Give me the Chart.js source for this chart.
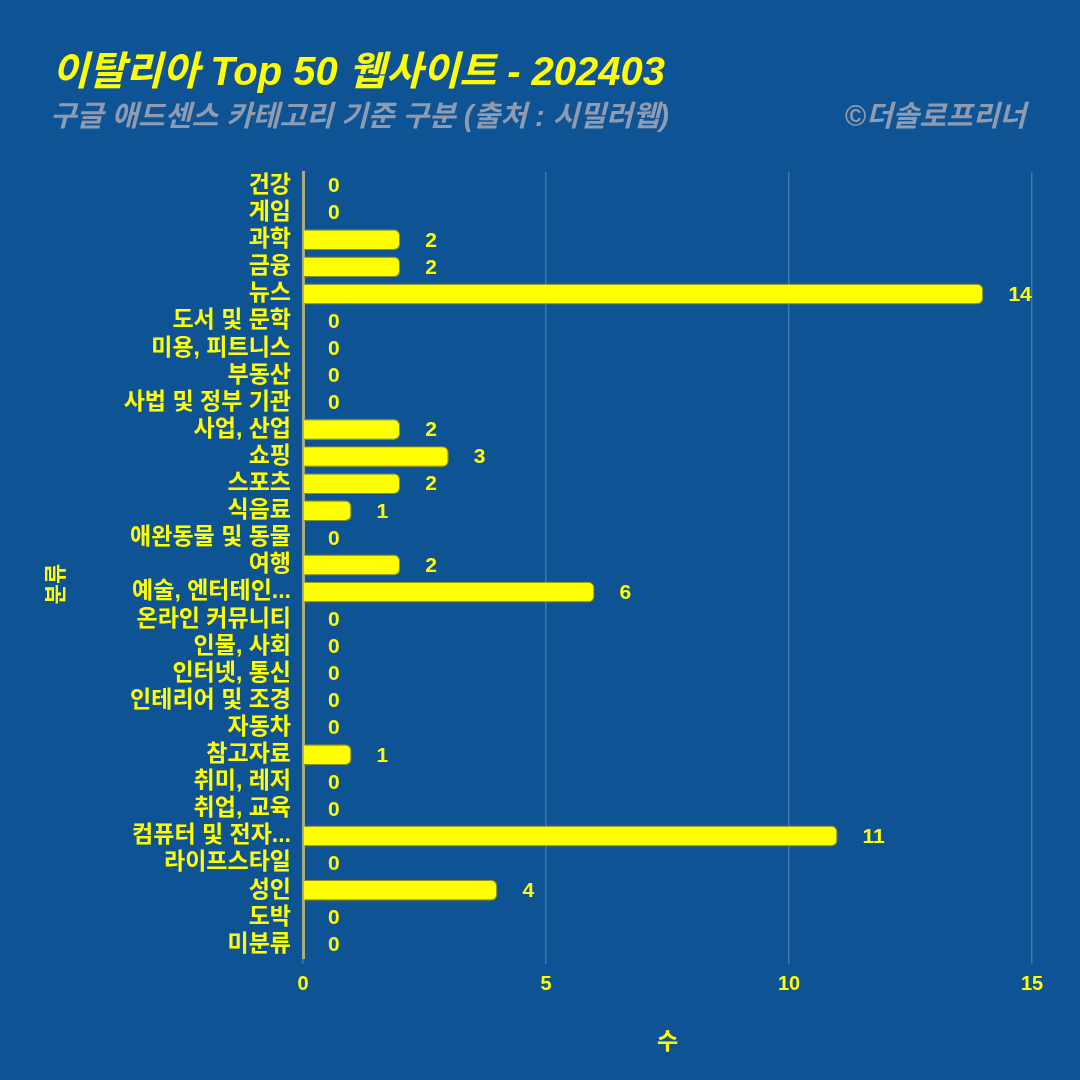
<!DOCTYPE html>
<html>
<head>
<meta charset="UTF-8">
<title>이탈리아 Top 50 웹사이트 - 202403</title>
<script src="https://cdn.jsdelivr.net/npm/chart.js@4/dist/chart.umd.min.js"></script>
<style>
  html, body { margin: 0; padding: 0; background: #0e5394; }
  #wrap { width: 1080px; height: 1080px; }
</style>
</head>
<body>
<div id="wrap"><canvas id="grafico" width="1080" height="1080"></canvas></div>
<script>
// data
var categorias = ["건강", "게임", "과학", "금융", "뉴스", "도서 및 문학", "미용, 피트니스", "부동산",
  "사법 및 정부 기관", "사업, 산업", "쇼핑", "스포츠", "식음료", "애완동물 및 동물", "여행",
  "예술, 엔터테인...", "온라인 커뮤니티", "인물, 사회", "인터넷, 통신", "인테리어 및 조경", "자동차",
  "참고자료", "취미, 레저", "취업, 교육", "컴퓨터 및 전자...", "라이프스타일", "성인", "도박", "미분류"];
var valores = [0, 0, 2, 2, 14, 0, 0, 0, 0, 2, 3, 2, 1, 0, 2, 6, 0, 0, 0, 0, 0, 1, 0, 0, 11, 0, 4, 0, 0];
var ticksX = [0, 5, 10, 15];

var titulo = "이탈리아 Top 50 웹사이트 - 202403";
var subtitulo = "구글 애드센스 카테고리 기준 구분 (출처 : 시밀러웹)";
var direitos = "©더솔로프리너";
var tituloY = "분류";

var AMARELO = "#ffff00";
var FONTE = "'Liberation Sans', 'Noto Sans CJK KR', sans-serif";

var textos = {
  id: "textos",
  afterDraw: function(chart) {
    var ctx = chart.ctx;
    ctx.save();
    ctx.textBaseline = "alphabetic";
    ctx.fillStyle = AMARELO;
    ctx.font = "italic bold 40px " + FONTE;
    ctx.textAlign = "left";
    ctx.fillText(titulo, 52, 85);
    ctx.fillStyle = "#8e9bb0";
    ctx.font = "italic bold 29px " + FONTE;
    ctx.fillText(subtitulo, 50, 126);
    ctx.textAlign = "right";
    ctx.fillText(direitos, 1026, 126);

    // y axis title
    ctx.save();
    ctx.translate(57, 584);
    ctx.rotate(-Math.PI / 2);
    ctx.fillStyle = AMARELO;
    ctx.font = "bold 22px " + FONTE;
    ctx.textAlign = "center";
    ctx.textBaseline = "middle";
    ctx.fillText(tituloY, 0, 0);
    ctx.restore();

    // value labels next to each bar
    var meta = chart.getDatasetMeta(0);
    ctx.fillStyle = AMARELO;
    ctx.font = "bold 21px " + FONTE;
    ctx.textAlign = "left";
    ctx.textBaseline = "middle";
    meta.data.forEach(function(bar, i) {
      ctx.fillText(String(valores[i]), bar.x + 25, bar.y + 1);
    });
    ctx.restore();
  }
};

var ctx = document.getElementById("grafico");
new Chart(ctx, {
  type: "bar",
  data: {
    labels: categorias,
    datasets: [{
      data: valores,
      backgroundColor: AMARELO,
      borderColor: "#8f8f20",
      borderWidth: 1.2,
      borderRadius: 6,
      borderSkipped: "start",
      barPercentage: 0.77,
      categoryPercentage: 1
    }]
  },
  options: {
    indexAxis: "y",
    responsive: false,
    animation: false,
    layout: { padding: { top: 172, left: 40, right: 48, bottom: 20 } },
    plugins: {
      legend: { display: false },
      tooltip: { enabled: false }
    },
    scales: {
      x: {
        min: 0,
        max: 15,
        afterBuildTicks: function(s) { s.ticks = ticksX.map(function(v) { return { value: v }; }); },
        afterFit: function(s) { s.height = 102; },
        grid: {
          color: "rgba(255,255,255,0.22)",
          lineWidth: 1.5,
          drawTicks: true,
          tickLength: 6
        },
        border: { display: false },
        ticks: {
          color: AMARELO,
          font: { family: FONTE, size: 20, weight: "bold" },
          padding: 8
        },
        title: {
          display: true,
          text: "수",
          color: AMARELO,
          font: { family: FONTE, size: 23, weight: "bold" },
          padding: { top: 18 }
        }
      },
      y: {
        afterFit: function(s) { s.width = 263; },
        grid: { display: false },
        border: { display: true, color: "#a9ad7e", width: 3 },
        ticks: {
          color: AMARELO,
          font: { family: FONTE, size: 23, weight: "bold" },
          padding: 4,
          autoSkip: false
        },
        title: { display: false }
      }
    }
  },
  plugins: [textos]
});
</script>
</body>
</html>
